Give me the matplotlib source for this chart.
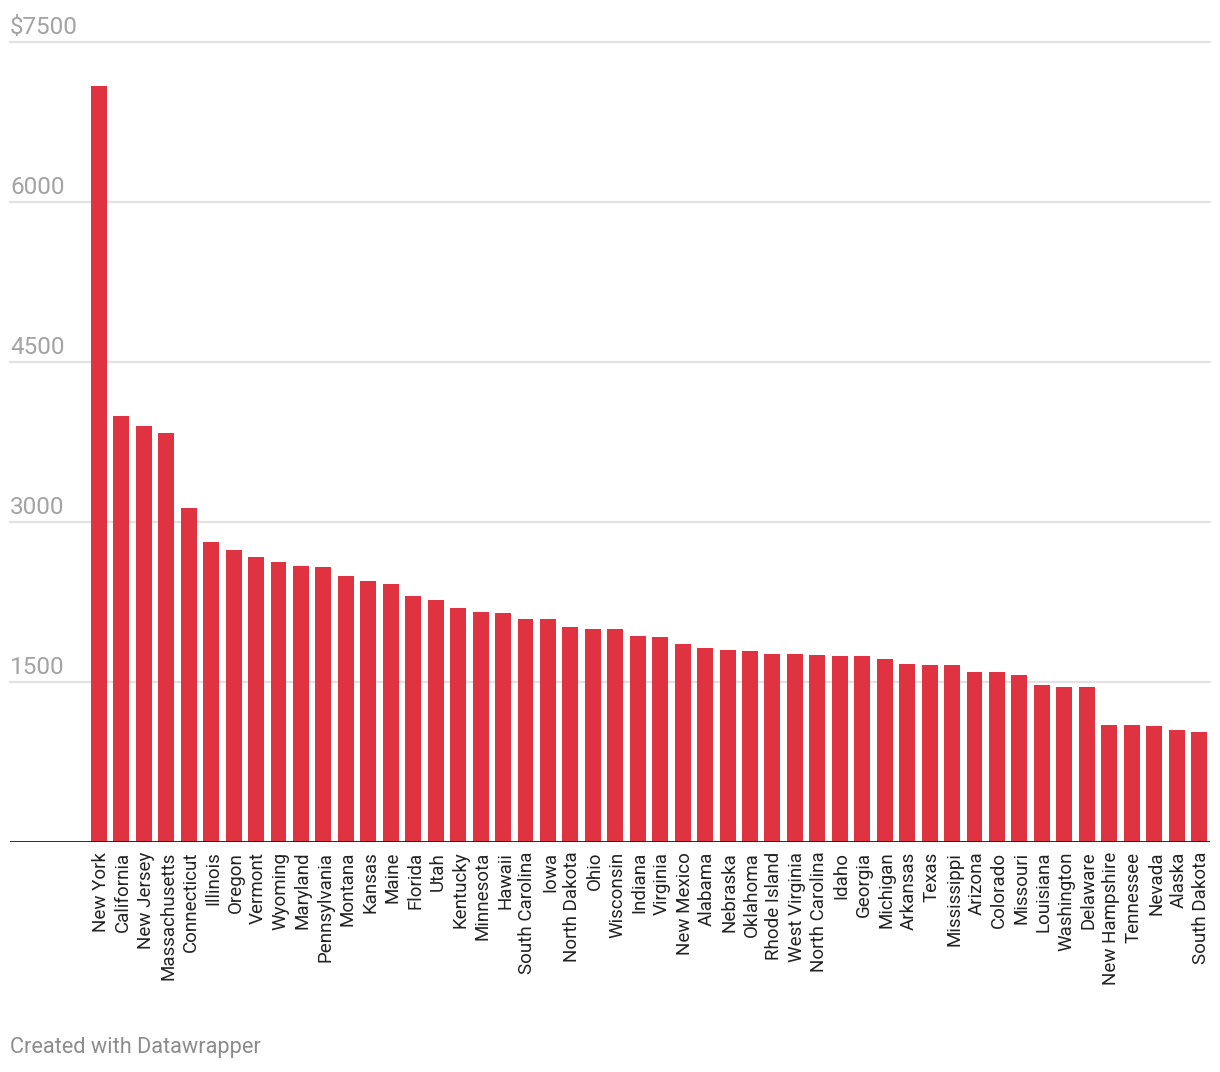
import matplotlib.pyplot as plt
import matplotlib.transforms as mtransforms

plt.rcParams['font.family'] = ['Roboto', 'DejaVu Sans']

# Datos
estados = ['New York', 'California', 'New Jersey', 'Massachusetts', 'Connecticut',
           'Illinois', 'Oregon', 'Vermont', 'Wyoming', 'Maryland', 'Pennsylvania',
           'Montana', 'Kansas', 'Maine', 'Florida', 'Utah', 'Kentucky', 'Minnesota',
           'Hawaii', 'South Carolina', 'Iowa', 'North Dakota', 'Ohio', 'Wisconsin',
           'Indiana', 'Virginia', 'New Mexico', 'Alabama', 'Nebraska', 'Oklahoma',
           'Rhode Island', 'West Virginia', 'North Carolina', 'Idaho', 'Georgia',
           'Michigan', 'Arkansas', 'Texas', 'Mississippi', 'Arizona', 'Colorado',
           'Missouri', 'Louisiana', 'Washington', 'Delaware', 'New Hampshire',
           'Tennessee', 'Nevada', 'Alaska', 'South Dakota']
valores = [7085, 3994, 3900, 3834, 3131,
           2812, 2737, 2672, 2625, 2587, 2578,
           2494, 2447, 2419, 2306, 2269, 2194, 2156,
           2147, 2091, 2091, 2016, 1997, 1997,
           1931, 1922, 1856, 1819, 1800, 1791,
           1762, 1762, 1753, 1744, 1744,
           1716, 1669, 1659, 1659, 1594, 1594,
           1566, 1472, 1453, 1453, 1097,
           1097, 1087, 1050, 1031]
ticks_y = [1500, 3000, 4500, 6000, 7500]
etiquetas_y = ['1500', '3000', '4500', '6000', '$7500']

fig = plt.figure(figsize=(12.2, 10.72), dpi=100)
ax = fig.add_axes([10 / 1220, (1072 - 842) / 1072, 1200 / 1220, 800 / 1072])

x = list(range(len(estados)))
ax.bar(x, valores, width=0.71, color='#df3341', zorder=2)

ax.set_xlim(-3.96, 49.49)
ax.set_ylim(0, 7500)

# Lineas de la cuadricula
for v in ticks_y:
    ax.axhline(v, color='#e2e2e2', linewidth=1.6, zorder=1, clip_on=False)
ax.axhline(0, color='#1a1a1a', linewidth=2.0, zorder=3)

# Etiquetas del eje y encima de la linea
trans = mtransforms.offset_copy(ax.get_yaxis_transform(), fig=fig, x=0, y=8, units='dots')
for v, t in zip(ticks_y, etiquetas_y):
    ax.text(0, v, t, transform=trans, ha='left', va='baseline',
            fontsize=17.5, color='#a3a3a3')

ax.set_yticks([])
ax.set_xticks(x)
ax.set_xticklabels(estados, rotation=90, fontsize=13.5, color='#222222',
                   ha='center', va='top')
ax.tick_params(axis='x', length=0, pad=7)

# un pequeno desplazamiento a la derecha de las etiquetas
desplazar = mtransforms.ScaledTranslation(2 / 100, 0, fig.dpi_scale_trans)
for lab in ax.get_xticklabels():
    lab.set_transform(lab.get_transform() + desplazar)

for s in ax.spines.values():
    s.set_visible(False)

fig.text(10 / 1220, 1 - 1047 / 1072, 'Created with Datawrapper', fontsize=15.7,
         color='#8c8c8c', ha='left', va='center')

fig.savefig('out.png', dpi=100)
